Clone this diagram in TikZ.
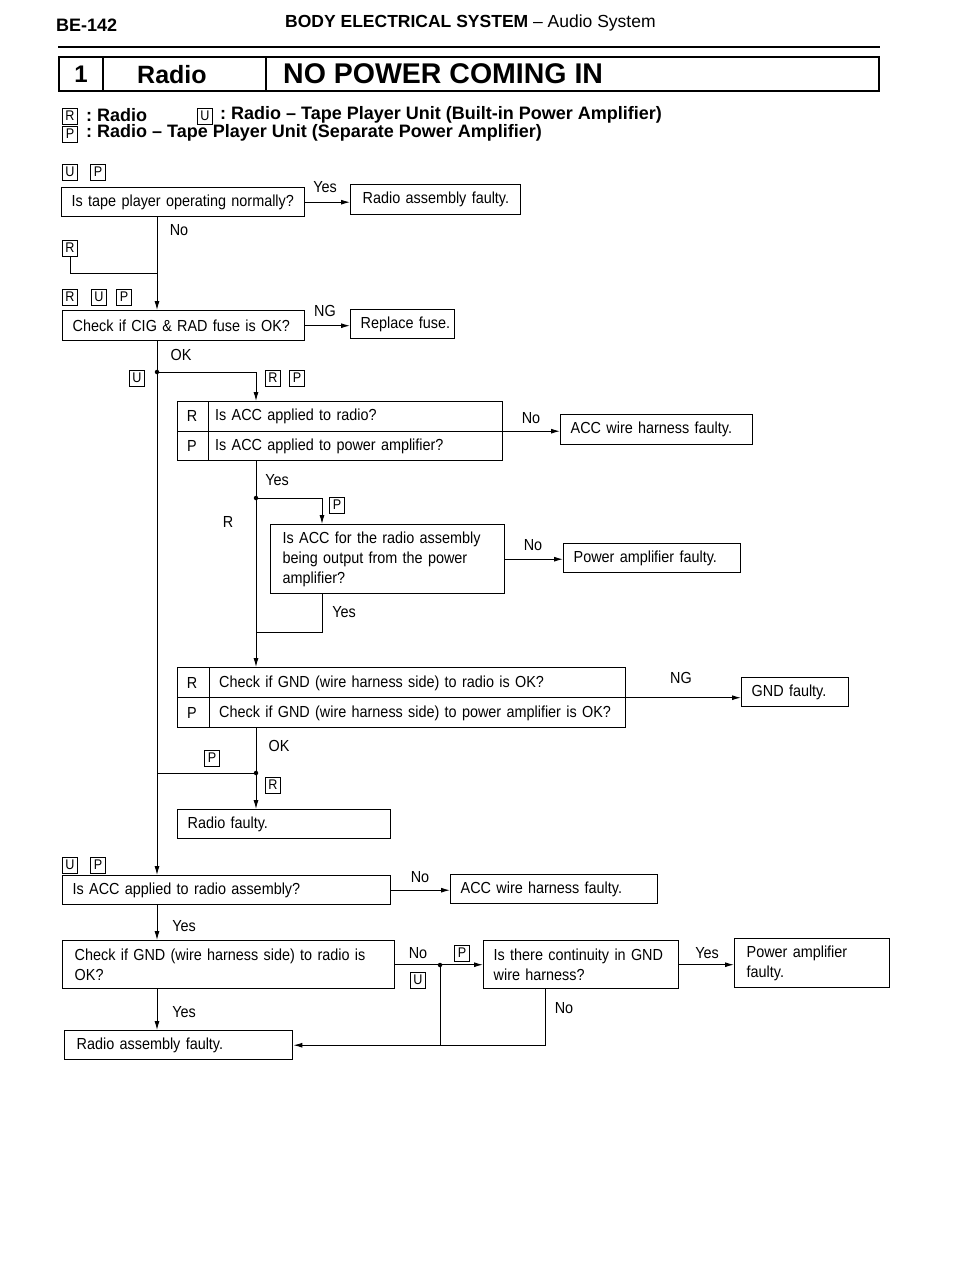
\documentclass[tikz,border=0pt]{standalone}
\usepackage{fontspec}
\setmainfont{Liberation Sans}[Ligatures=TeX]
\newfontfamily\cf{Liberation Sans}[FakeStretch=0.9,WordSpace=1.33,Ligatures=TeX]
\usetikzlibrary{arrows.meta,calc}
\begin{document}
\begin{tikzpicture}[x=1pt,y=-1pt,
  txt/.style={font=\cf\fontsize{16}{19}\selectfont, inner sep=0pt},
  box/.style={draw, line width=1.4pt, anchor=north west, align=flush left, inner xsep=10pt, inner ysep=2pt, font=\cf\fontsize{16}{20}\selectfont},
  tag/.style={draw, line width=0.9pt, inner sep=0pt, minimum width=15pt, minimum height=16pt, font=\cf\fontsize{14}{14}\selectfont},
  conn/.style={line width=1pt},
  arr/.style={line width=1pt, -{Latex[length=9pt,width=5pt]}},
  dot/.style={circle, fill, inner sep=0pt, minimum size=4.5pt}
]
\useasboundingbox (0,0) rectangle (960,1280);
% header
\node[anchor=west, font=\bfseries\fontsize{18}{20}\selectfont, inner sep=0pt] (pg) at (56,25) {BE-142};
\node[anchor=west, font=\fontsize{17.5}{20}\selectfont, inner sep=0pt] (ttl) at (285,23) {\textbf{BODY ELECTRICAL SYSTEM} – Audio System};
\draw[line width=2.5pt] (58,47) -- (880,47);
% title box
\node[draw, line width=1.5pt, anchor=north west, minimum width=820pt, minimum height=34pt, inner sep=0pt] (tb) at (58,56) {};
\draw[line width=1.2pt] (103,56) -- (103,90) (266,56) -- (266,90);
\node[font=\bfseries\fontsize{24}{26}\selectfont, inner sep=0pt] (t1) at (81,74) {1};
\node[anchor=west, font=\bfseries\fontsize{25}{26}\selectfont, inner sep=0pt] (t2) at (137,75) {Radio};
\node[anchor=west, font=\bfseries\fontsize{28.5}{30}\selectfont, inner sep=0pt] (t3) at (283,74) {NO POWER COMING IN};
% legend
\node[tag] (lR) at (70,116) {R};
\node[tag] (lU) at (205,116) {U};
\node[tag] (lP) at (70,134) {P};
\node[anchor=west, font=\bfseries\fontsize{18}{18}\selectfont, inner sep=0pt] (lt1) at (86,115) {:\ Radio};
\node[anchor=west, font=\bfseries\fontsize{18}{18}\selectfont, inner sep=0pt] (lt2) at (220,115) {:\ Radio – Tape Player Unit (Built-in Power Amplifier)};
\node[anchor=west, font=\bfseries\fontsize{18}{18}\selectfont, inner sep=0pt] (lt3) at (86,133) {:\ Radio – Tape Player Unit (Separate Power Amplifier)};

% coordinates for vertical lanes
\coordinate (mainx) at (157,0);
\coordinate (subx) at (256,0);
\coordinate (px) at (322,0);
\coordinate (cx) at (545,0);

% boxes
\node[tag] (tU1) at (70,172) {U};
\node[tag] (tP1) at (98,172) {P};
\node[box, text width=223pt, minimum height=29pt] (b1) at (61,187) {\mbox{Is tape player operating normally?}};
\node[box, text width=146pt, minimum height=30pt, inner xsep=12pt] (a1) at (350,184) {\mbox{Radio assembly faulty.}};
\node[tag] (tR1) at (70,248) {R};
\node[tag] (tR2) at (70,297) {R};
\node[tag] (tU2) at (99,297) {U};
\node[tag] (tP2) at (124,297) {P};
\node[box, text width=222pt, minimum height=30pt] (b2) at (62,310) {\mbox{Check if CIG \& RAD fuse is OK?}};
\node[box, text width=94pt, minimum height=29pt, inner xsep=5pt] (rf) at (350,309) {\mbox{\hspace*{5pt}Replace fuse.}};

\node[tag] (tU3) at (137,378) {U};
\node[tag] (tR3) at (273,378) {R};
\node[tag] (tP3) at (297,378) {P};
\node[draw, line width=1.4pt, anchor=north west, minimum width=325pt, minimum height=59pt, inner sep=0pt] (b3) at (177,401) {};
\draw[line width=1pt] (b3.west) -- (b3.east);
\draw[line width=1pt] (208,401) -- (208,460);
\node[txt] (b3r) at (192,416) {R};
\node[txt, anchor=west] (b3t) at (215,416) {Is ACC applied to radio?};
\node[txt] (b3p) at (192,446) {P};
\node[txt, anchor=west] (b3u) at (215,446) {Is ACC applied to power amplifier?};
\node[box, text width=172pt, minimum height=30pt] (acc1) at (560,414) {\mbox{ACC wire harness faulty.}};

\node[tag] (tP4) at (337,505) {P};
\node[txt] (lr) at (228,522) {R};
\node[box, text width=210pt, minimum height=69pt, inner xsep=12pt] (b4) at (270,524) {Is ACC for the radio assembly\\being output from the power\\amplifier?};
\node[box, text width=157pt, minimum height=29pt] (pa1) at (563,543) {\mbox{Power amplifier faulty.}};

\node[draw, line width=1.4pt, anchor=north west, minimum width=448pt, minimum height=60pt, inner sep=0pt] (b5) at (177,667) {};
\draw[line width=1pt] (b5.west) -- (b5.east);
\draw[line width=1pt] (209,667) -- (209,727);
\node[txt] (b5r) at (192,683) {R};
\node[txt, anchor=west] (b5t) at (219,683) {Check if GND (wire harness side) to radio is OK?};
\node[txt] (b5p) at (192,713) {P};
\node[txt, anchor=west] (b5u) at (219,713) {Check if GND (wire harness side) to power amplifier is OK?};
\node[box, text width=87pt, minimum height=29pt] (gnd) at (741,677) {\mbox{GND faulty.}};

\node[tag] (tP5) at (212,758) {P};
\node[tag] (tR5) at (273,785) {R};
\node[box, text width=193pt, minimum height=29pt] (b6) at (177,809) {\mbox{Radio faulty.}};

\node[tag] (tU6) at (70,865) {U};
\node[tag] (tP6) at (98,865) {P};
\node[box, text width=308pt, minimum height=29pt] (b7) at (62,875) {\mbox{Is ACC applied to radio assembly?}};
\node[box, text width=187pt, minimum height=29pt] (acc2) at (450,874) {\mbox{ACC wire harness faulty.}};
\node[box, text width=308pt, minimum height=48pt, inner xsep=12pt] (b8) at (62,940) {\mbox{Check if GND (wire harness side) to radio is}\\OK?};
\node[box, text width=175pt, minimum height=48pt] (b9) at (483,940) {\mbox{Is there continuity in GND}\\wire harness?};
\node[box, text width=131pt, minimum height=49pt, inner xsep=12pt] (pa2) at (734,938) {Power amplifier\\faulty.};
\node[box, text width=204pt, minimum height=29pt, inner xsep=12pt] (b10) at (64,1030) {\mbox{Radio assembly faulty.}};
\node[tag] (tP8) at (462,953) {P};
\node[tag] (tU8) at (418,980) {U};

% labels
\node[txt] (l1) at (325,187) {Yes};
\node[txt] (l2) at (179,230) {No};
\node[txt] (l3) at (325,311) {NG};
\node[txt] (l4) at (181,355) {OK};
\node[txt] (l5) at (531,418) {No};
\node[txt] (l6) at (277,480) {Yes};
\node[txt] (l7) at (533,545) {No};
\node[txt] (l8) at (344,612) {Yes};
\node[txt] (l9) at (681,678) {NG};
\node[txt] (l10) at (279,746) {OK};
\node[txt] (l11) at (420,877) {No};
\node[txt] (l12) at (184,926) {Yes};
\node[txt] (l13) at (418,953) {No};
\node[txt] (l14) at (707,953) {Yes};
\node[txt] (l15) at (564,1008) {No};
\node[txt] (l16) at (184,1012) {Yes};

% connectors
\draw[arr] (b1.east) -- (b1.east -| a1.west);
\draw[arr] (b1.south -| mainx) -- (b2.north -| mainx);
\coordinate (j1) at (157,273);
\draw[conn] (tR1.south) |- (j1);
\draw[arr] (b2.east) -- (b2.east -| rf.west);
\draw[arr] (b2.south -| mainx) -- (b7.north -| mainx);
\coordinate (d1) at (157,372);
\node[dot] (dd1) at (d1) {};
\draw[arr] (d1) -| (b3.north -| subx);
\draw[arr] (b3.east) -- (b3.east -| acc1.west);
\draw[arr] (b3.south -| subx) -- (b5.north -| subx);
\coordinate (d2) at (256,498);
\node[dot] (dd2) at (d2) {};
\draw[arr] (d2) -| (b4.north -| px);
\draw[arr] (b4.east) -- (b4.east -| pa1.west);
\coordinate (j2) at (256,632);
\draw[conn] (b4.south -| px) |- (j2);
\draw[arr] (b5.east) -- (b5.east -| gnd.west);
\draw[arr] (b5.south -| subx) -- (b6.north -| subx);
\coordinate (d3) at (256,773);
\node[dot] (dd3) at (d3) {};
\draw[conn] (d3 -| mainx) -- (d3);
\draw[arr] (b7.east) -- (b7.east -| acc2.west);
\draw[arr] (b7.south -| mainx) -- (b8.north -| mainx);
\draw[arr] (b8.east) -- (b8.east -| b9.west);
\coordinate (d4) at (440,965);
\node[dot] (dd4) at (d4) {};
\draw[conn] (d4) -- (d4 |- b10.east);
\draw[arr] (b9.east) -- (b9.east -| pa2.west);
\draw[arr] (b8.south -| mainx) -- (b10.north -| mainx);
\draw[arr] (b9.south -| cx) |- (b10.east);
\end{tikzpicture}
\end{document}
